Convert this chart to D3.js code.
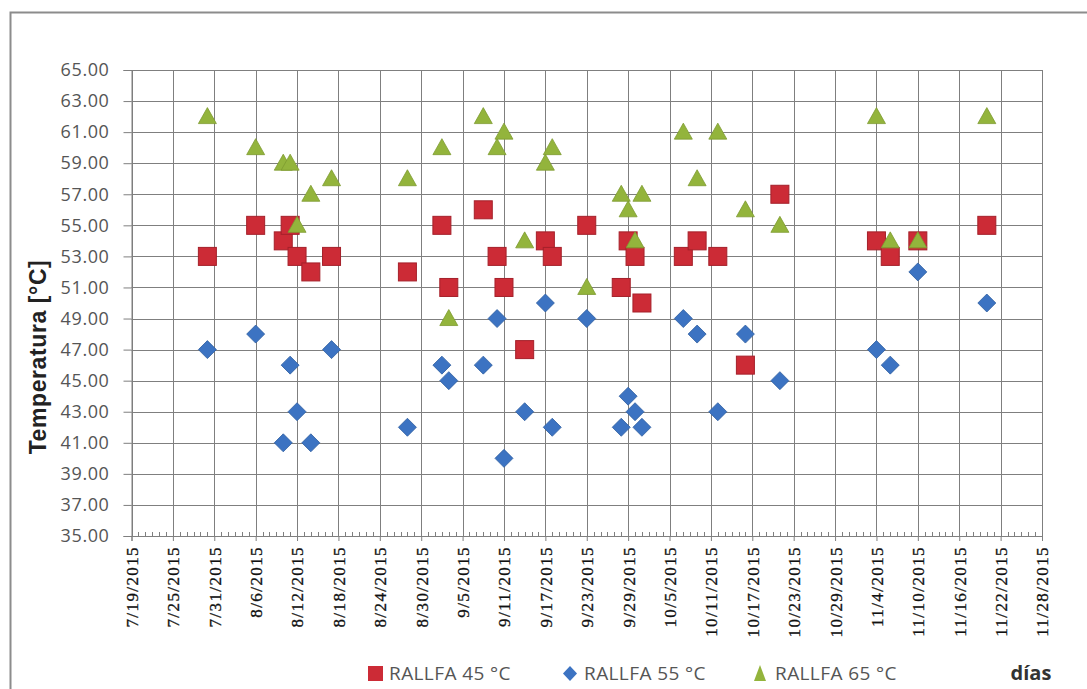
<!DOCTYPE html>
<html>
<head>
<meta charset="utf-8">
<script src="https://cdn.jsdelivr.net/npm/d3@7"></script>
<style>
  html, body { margin: 0; padding: 0; background: #fff; }
  svg { display: block; }
</style>
</head>
<body>
<svg id="chart" width="1087" height="689"></svg>
<script>
// ---- data ----
const dates = ["7/30/2015","8/6/2015","8/10/2015","8/11/2015","8/12/2015","8/14/2015","8/17/2015","8/28/2015",
  "9/2/2015","9/3/2015","9/8/2015","9/10/2015","9/11/2015","9/14/2015","9/17/2015","9/18/2015","9/23/2015",
  "9/28/2015","9/29/2015","9/30/2015","10/1/2015","10/7/2015","10/9/2015","10/12/2015","10/16/2015","10/21/2015",
  "11/4/2015","11/6/2015","11/10/2015","11/20/2015"];
const rallfa45 = [53,55,54,55,53,52,53,52,55,51,56,53,51,47,54,53,55,51,54,53,50,53,54,53,46,57,54,53,54,55];
const rallfa55 = [47,48,41,46,43,41,47,42,46,45,46,49,40,43,50,42,49,42,44,43,42,49,48,43,48,45,47,46,52,50];
const rallfa65 = [62,60,59,59,55,57,58,58,60,49,62,60,61,54,59,60,51,57,56,54,57,61,58,61,56,55,62,54,54,62];
const xTickLabels = ["7/19/2015","7/25/2015","7/31/2015","8/6/2015","8/12/2015","8/18/2015","8/24/2015","8/30/2015",
  "9/5/2015","9/11/2015","9/17/2015","9/23/2015","9/29/2015","10/5/2015","10/11/2015","10/17/2015","10/23/2015",
  "10/29/2015","11/4/2015","11/10/2015","11/16/2015","11/22/2015","11/28/2015"];
const yTicks = [35,37,39,41,43,45,47,49,51,53,55,57,59,61,63,65];
const seriesNames = ["RALLFA 45 °C","RALLFA 55 °C","RALLFA 65 °C"];

// ---- setup ----
const parse = d3.timeParse("%m/%d/%Y");
const svg = d3.select("#chart");
const L = 131.5, R = 1042, T = 70, B = 536;
const xTickDates = xTickLabels.map(parse);
const x = d3.scaleTime().domain([xTickDates[0], xTickDates[xTickDates.length-1]]).range([L, R]);
const y = d3.scaleLinear().domain([35, 65]).range([B, T]);

// outer frame
svg.append("rect").attr("x", 10.5).attr("y", 12.5).attr("width", 1100).attr("height", 700)
  .attr("fill", "none").attr("stroke", "#8c8c8c").attr("stroke-width", 2);

const gridColor = "#7f7f7f";
// horizontal grid
svg.append("g").selectAll("line").data(yTicks).join("line")
  .attr("x1", L).attr("x2", R)
  .attr("y1", d => Math.round(y(d)) + 0.5).attr("y2", d => Math.round(y(d)) + 0.5)
  .attr("stroke", gridColor).attr("stroke-width", 1);
// vertical grid
svg.append("g").selectAll("line").data(xTickDates).join("line")
  .attr("x1", d => Math.round(x(d)) + 0.5).attr("x2", d => Math.round(x(d)) + 0.5)
  .attr("y1", T).attr("y2", B)
  .attr("stroke", gridColor).attr("stroke-width", 1);

// y axis
const yAxis = svg.append("g").attr("transform", `translate(${L},0)`)
  .call(d3.axisLeft(y).tickValues(yTicks).tickFormat(d3.format(".2f")).tickSize(8).tickPadding(14));
yAxis.select(".domain").attr("stroke", gridColor);
yAxis.selectAll(".tick line").attr("stroke", gridColor);
yAxis.selectAll("text").attr("font-family", "Open Sans, sans-serif").attr("font-size", 18)
  .attr("fill", "#555").attr("letter-spacing", 0.6);

// x minor ticks (daily)
const days = d3.timeDay.range(xTickDates[0], d3.timeDay.offset(xTickDates[xTickDates.length-1], 1));
svg.append("g").selectAll("line").data(days).join("line")
  .attr("x1", d => Math.round(x(d)) + 0.5).attr("x2", d => Math.round(x(d)) + 0.5)
  .attr("y1", B - 4).attr("y2", B)
  .attr("stroke", gridColor).attr("stroke-width", 1);

// x axis
const xAxis = svg.append("g").attr("transform", `translate(0,${B})`)
  .call(d3.axisBottom(x).tickValues(xTickDates).tickFormat((d, i) => xTickLabels[i]).tickSize(5));
xAxis.select(".domain").attr("stroke", gridColor);
xAxis.selectAll(".tick line").attr("stroke", gridColor);
xAxis.selectAll("text")
  .attr("font-family", "Liberation Serif, serif").attr("font-size", 17).attr("fill", "#111")
  .attr("letter-spacing", 1.4).attr("stroke", "#111").attr("stroke-width", 0.3)
  .attr("text-anchor", "end").attr("dy", "0.35em")
  .attr("transform", "translate(0,4) rotate(-90)").attr("x", -6).attr("y", 0);

// y title
svg.append("text").attr("transform", "translate(46,357) rotate(-90)")
  .attr("text-anchor", "middle").attr("font-family", "Liberation Sans, sans-serif")
  .attr("font-weight", "bold").attr("font-size", 23).attr("letter-spacing", 0.6).attr("fill", "#222")
  .text("Temperatura [°C]");

// series
const colors = ["#CC2B36", "#3C73C2", "#93B43C"];
const strokes = ["#a5202a", "#2f5e9f", "#7d9a30"];
const pts = (vals) => vals.map((v, i) => ({ d: parse(dates[i]), v }));

// red squares
svg.append("g").selectAll("rect").data(pts(rallfa45)).join("rect")
  .attr("x", p => x(p.d) - 9).attr("y", p => y(p.v) - 9).attr("width", 18).attr("height", 18)
  .attr("fill", colors[0]).attr("stroke", strokes[0]).attr("stroke-width", 1);
// blue diamonds
svg.append("g").selectAll("path").data(pts(rallfa55)).join("path")
  .attr("d", p => { const cx = x(p.d), cy = y(p.v), s = 9; return `M${cx},${cy-s}L${cx+s},${cy}L${cx},${cy+s}L${cx-s},${cy}Z`; })
  .attr("fill", colors[1]).attr("stroke", strokes[1]).attr("stroke-width", 0.8);
// green triangles
svg.append("g").selectAll("path").data(pts(rallfa65)).join("path")
  .attr("d", p => { const cx = x(p.d), cy = y(p.v); return `M${cx},${cy-9}L${cx+9},${cy+7}L${cx-9},${cy+7}Z`; })
  .attr("fill", colors[2]).attr("stroke", strokes[2]).attr("stroke-width", 0.8);

// legend
const lg = svg.append("g").attr("font-family", "Open Sans, sans-serif").attr("font-size", 19)
  .attr("letter-spacing", 0.4).attr("fill", "#555");
const legX = [368, 563, 754];
lg.append("rect").attr("x", legX[0]).attr("y", 666).attr("width", 15).attr("height", 15).attr("fill", colors[0]);
lg.append("path").attr("d", `M${legX[1]+7},666L${legX[1]+14},673.5L${legX[1]+7},681L${legX[1]},673.5Z`).attr("fill", colors[1]);
lg.append("path").attr("d", `M${legX[2]+6},665L${legX[2]+12},681L${legX[2]},681Z`).attr("fill", colors[2]);
lg.selectAll("text.l").data(seriesNames).join("text").attr("class", "l")
  .attr("x", (d, i) => legX[i] + 21).attr("y", 673).attr("dy", "0.36em").text(d => d);

svg.append("text").attr("x", 1031).attr("y", 673).attr("dy", "0.36em").attr("text-anchor", "middle")
  .attr("font-family", "Open Sans, sans-serif").attr("font-weight", "bold").attr("font-size", 20)
  .attr("fill", "#333").text("días");
</script>
</body>
</html>
